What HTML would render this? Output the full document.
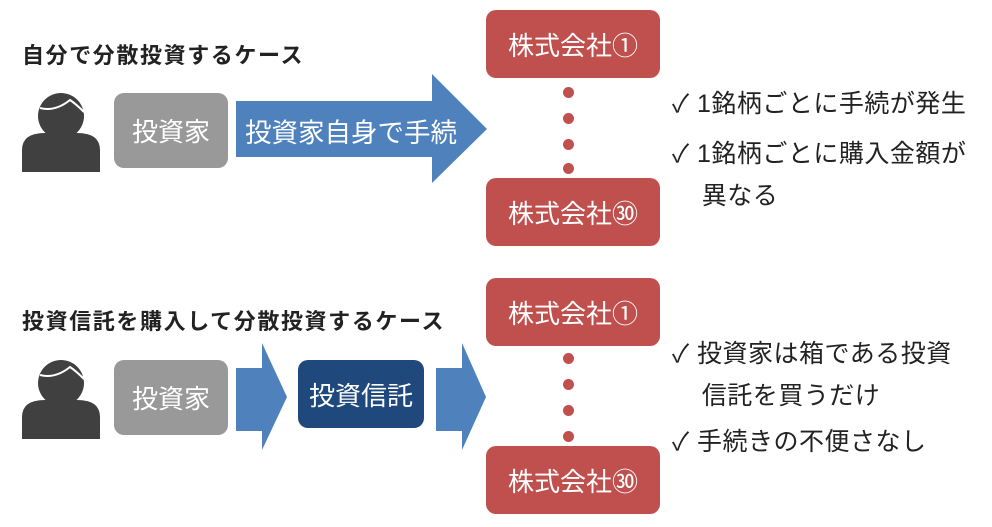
<!DOCTYPE html><html><head><meta charset="utf-8"><style>
body{margin:0;width:992px;height:527px;background:#fff;position:relative;overflow:hidden;font-family:"Liberation Sans","Noto Sans CJK JP",sans-serif}
.a{position:absolute}
.t{font-size:22px;color:#222;font-weight:bold;letter-spacing:1.6px}
.g{background:#999;border-radius:10px;color:#fff;font-size:26px;display:flex;align-items:center;justify-content:center}
.r{background:#c0504d;border-radius:10px;color:#fff;font-size:26px;display:flex;align-items:center;justify-content:center;left:486px;width:174px;height:68px}
.d{width:11px;height:11px;border-radius:50%;background:#c0504d;left:563px}
.c{font-size:25px;color:#222;line-height:42px;letter-spacing:0.5px}
</style></head><body>
<div class="a t" style="left:22px;top:38px">自分で分散投資するケース</div>
<div class="a t" style="left:22px;top:304px">投資信託を購入して分散投資するケース</div>
<svg class="a" style="left:0;top:0" width="992" height="527">
<g fill="#404040">
<circle cx="61" cy="116" r="23"/><path d="M22 172 L22 150 Q22 133 45 133 L77 133 Q100 133 100 150 L100 172Z"/>
<circle cx="61" cy="383" r="23"/><path d="M22 439 L22 417 Q22 400 45 400 L77 400 Q100 400 100 417 L100 439Z"/>
</g>
<path d="M40 108 Q55 112 70 100 Q76 104 84 112" stroke="#fff" stroke-width="2" fill="none"/>
<path d="M40 375 Q55 379 70 367 Q76 371 84 379" stroke="#fff" stroke-width="2" fill="none"/>
<g fill="#4f81bd">
<path d="M236 101 L432 101 L432 74 L487 129 L432 183 L432 157 L236 157Z"/>
<path d="M236 368 L262 368 L262 343 L287 397 L262 450 L262 431 L236 431Z"/>
<path d="M436 368 L462 368 L462 343 L486 397 L462 450 L462 431 L436 431Z"/>
</g>
</svg>
<div class="a g" style="left:114px;top:93px;width:114px;height:75px">投資家</div>
<div class="a" style="left:245px;top:111px;color:#fff;font-size:26.5px">投資家自身で手続</div>
<div class="a g" style="left:114px;top:360px;width:114px;height:75px">投資家</div>
<div class="a g" style="left:298px;top:360px;width:126px;height:68px;background:#1f497d;font-size:26px">投資信託</div>
<div class="a r" style="top:10px">株式会社①</div>
<div class="a r" style="top:178px">株式会社㉚</div>
<div class="a r" style="top:278px">株式会社①</div>
<div class="a r" style="top:446px">株式会社㉚</div>
<div class="a d" style="top:87px"></div><div class="a d" style="top:113px"></div><div class="a d" style="top:139px"></div><div class="a d" style="top:163px"></div>
<div class="a d" style="top:353px"></div><div class="a d" style="top:379px"></div><div class="a d" style="top:405px"></div><div class="a d" style="top:431px"></div>
<div class="a c" style="left:672px;top:83px">✓ 1銘柄ごとに手続が発生</div>
<div class="a c" style="left:672px;top:133px">✓ 1銘柄ごとに購入金額が<br>&nbsp;&nbsp;&nbsp;&nbsp;異なる</div>
<div class="a c" style="left:672px;top:333px">✓ 投資家は箱である投資<br>&nbsp;&nbsp;&nbsp;&nbsp;信託を買うだけ</div>
<div class="a c" style="left:672px;top:421px">✓ 手続きの不便さなし</div>
</body></html>
